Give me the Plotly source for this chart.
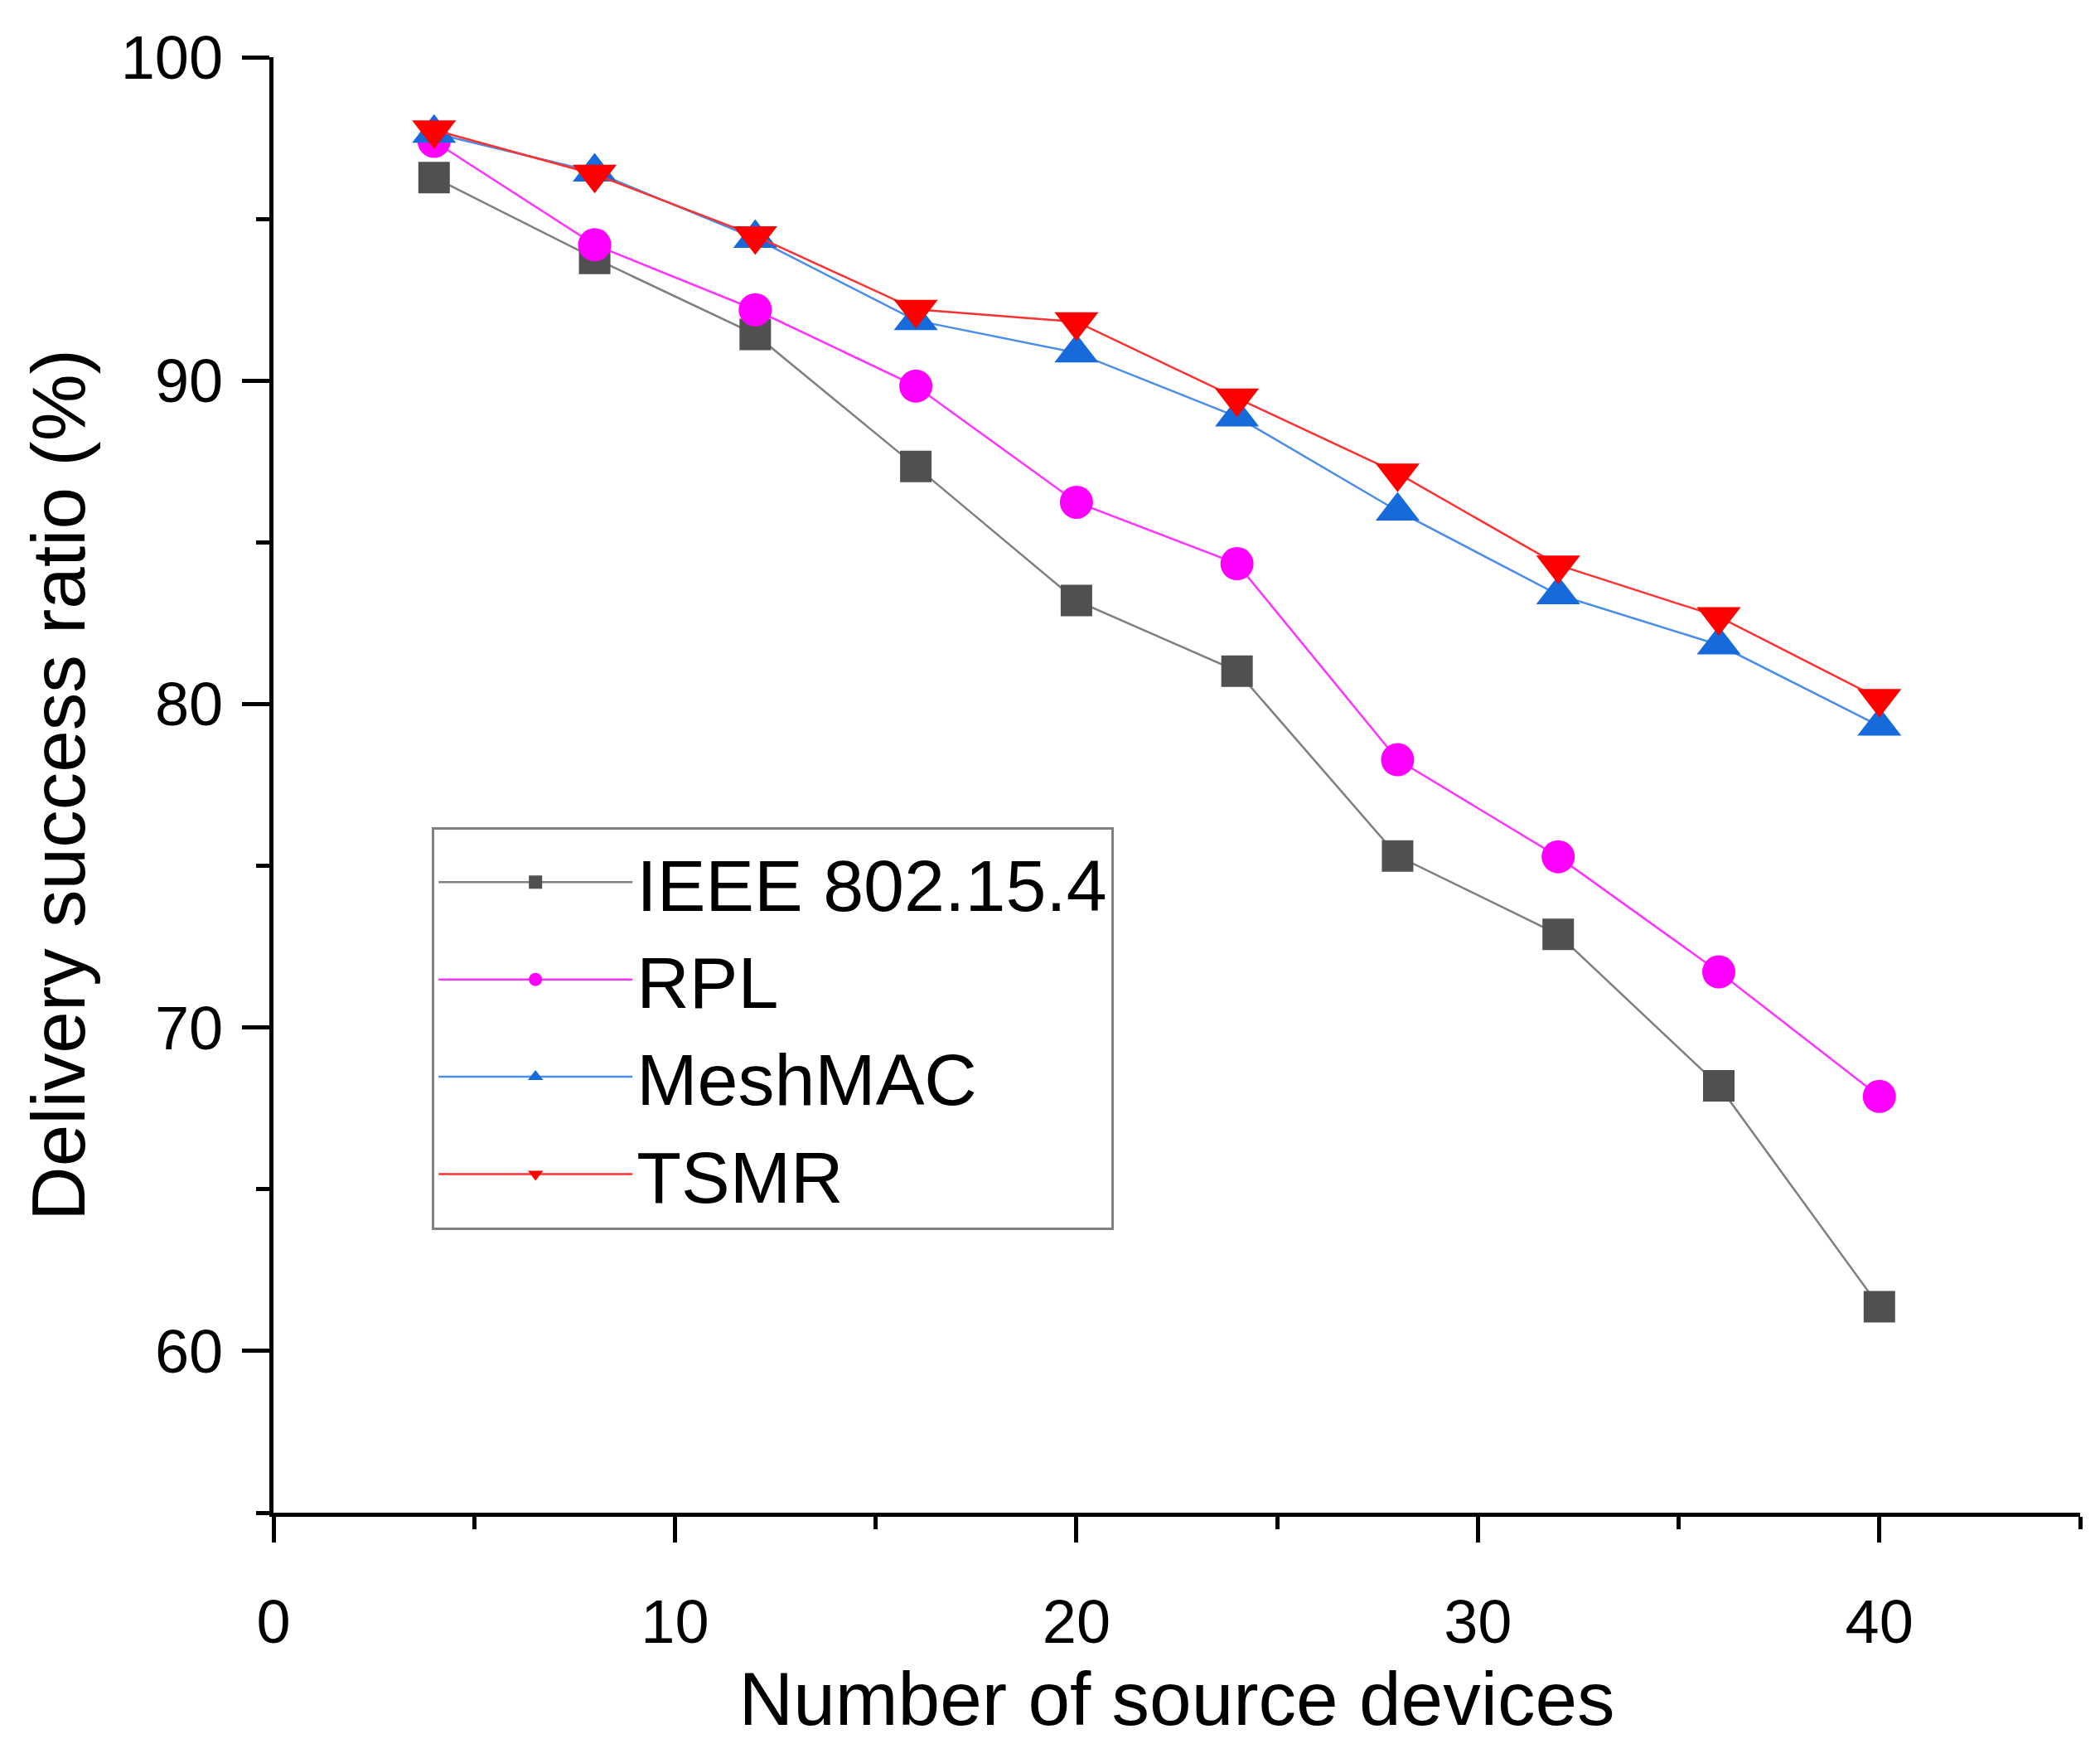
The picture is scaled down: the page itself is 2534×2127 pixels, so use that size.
import plotly.graph_objects as go

# Datos
x_devices = [4, 8, 12, 16, 20, 24, 28, 32, 36, 40]

ieee_802154 = [96.28, 93.78, 91.43, 87.35, 83.2, 81.02, 75.3, 72.88, 68.2, 61.37]
rpl = [97.4, 94.2, 92.19, 89.83, 86.24, 84.34, 78.28, 75.28, 71.72, 67.87]
meshmac = [97.65, 96.45, 94.4, 91.86, 90.86, 88.88, 85.97, 83.38, 81.83, 79.32]
tsmr = [97.75, 96.38, 94.48, 92.2, 91.82, 89.46, 87.14, 84.3, 82.7, 80.17]

series_names = ['IEEE 802.15.4', 'RPL', 'MeshMAC', 'TSMR']

x_tickvals = [0, 10, 20, 30, 40]
y_tickvals = [60, 70, 80, 90, 100]

FONT = 'Liberation Sans, Arial, sans-serif'

fig = go.Figure()

# Una traza por protocolo
estilos = [
    (ieee_802154, 'square', 38, '#505050', '#7f7f7f'),
    (rpl, 'circle', 40, '#ff00ff', '#ff33ff'),
    (meshmac, 'triangle-up', 46, '#176ada', '#4a8eea'),
    (tsmr, 'triangle-down', 46, '#ff0000', '#ff3030'),
]

for name, (valores, simbolo, tam, color, color_linea) in zip(series_names, estilos):
    fig.add_trace(go.Scatter(
        x=x_devices,
        y=valores,
        mode='lines+markers',
        name=name,
        line=dict(color=color_linea, width=2.5),
        marker=dict(symbol=simbolo, size=tam, color=color, line=dict(width=0)),
    ))

fig.update_layout(
    width=2534,
    height=2127,
    margin=dict(l=322, r=32, t=61, b=310),
    plot_bgcolor='white',
    paper_bgcolor='white',
    font=dict(family=FONT, color='black'),
    showlegend=True,
    legend=dict(
        x=0.0877, y=0.4712,
        xanchor='left', yanchor='top',
        bgcolor='white',
        bordercolor='#808080',
        borderwidth=3,
        font=dict(family=FONT, size=88, color='black'),
        itemwidth=234,
        tracegroupgap=0,
    ),
    xaxis=dict(
        range=[0, 45],
        tickmode='array',
        tickvals=x_tickvals,
        ticks='outside',
        ticklen=31,
        tickwidth=5,
        tickcolor='black',
        minor=dict(dtick=5, tick0=0, ticks='outside', ticklen=15, tickwidth=5, tickcolor='black'),
        showline=True,
        linecolor='black',
        linewidth=5,
        showgrid=False,
        zeroline=False,
        tickfont=dict(family=FONT, size=74, color='black'),
        ticklabelstandoff=32,
        title=dict(text='Number of source devices',
                   font=dict(family=FONT, size=91, color='black'),
                   standoff=22),
    ),
    yaxis=dict(
        range=[55, 100],
        tickmode='array',
        tickvals=y_tickvals,
        ticks='outside',
        ticklen=33,
        tickwidth=5,
        tickcolor='black',
        minor=dict(dtick=5, tick0=55, ticks='outside', ticklen=16, tickwidth=5, tickcolor='black'),
        showline=True,
        linecolor='black',
        linewidth=5,
        showgrid=False,
        zeroline=False,
        tickfont=dict(family=FONT, size=74, color='black'),
        ticklabelstandoff=8,
        title=dict(text='Delivery success ratio (%)',
                   font=dict(family=FONT, size=91, color='black'),
                   standoff=14),
    ),
)

fig.write_html("out.html")
